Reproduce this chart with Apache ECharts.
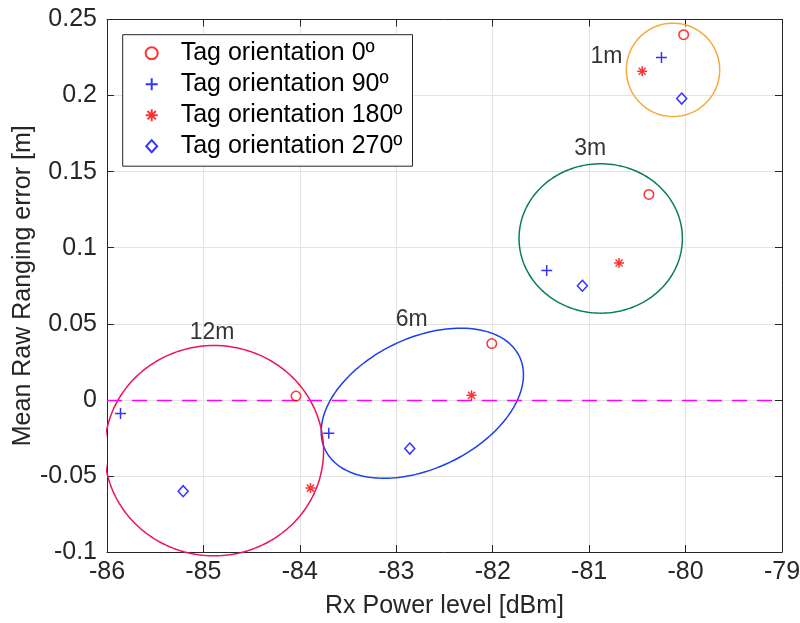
<!DOCTYPE html>
<html><head><meta charset="utf-8">
<script src="https://cdn.jsdelivr.net/npm/echarts@6/dist/echarts.min.js"></script>
<style>html,body{margin:0;padding:0;background:#fff}#c{width:800px;height:623px}</style>
</head><body><div id="c"></div>
<script>
// ---- data ----
const seriesNames = ['Tag orientation 0º', 'Tag orientation 90º', 'Tag orientation 180º', 'Tag orientation 270º'];
const distances = ['1m', '3m', '6m', '12m'];
const power0 = [-80.02, -80.38, -82.01, -84.04];
const error0 = [0.240, 0.135, 0.037, 0.0025];
const power90 = [-80.25, -81.44, -83.70, -85.86];
const error90 = [0.225, 0.085, -0.022, -0.009];
const power180 = [-80.45, -80.69, -82.22, -83.89];
const error180 = [0.216, 0.090, 0.003, -0.058];
const power270 = [-80.04, -81.07, -82.86, -85.21];
const error270 = [0.198, 0.075, -0.032, -0.060];
// group ellipses: centre and two conjugate semi-axis vectors (data units)
const ellipseCenterX = [-80.13, -80.88, -82.73, -84.89];
const ellipseCenterY = [0.2169, 0.1061, -0.0022, -0.0334];
const ellipseUx = [0.484, 0.847, 1.007, 1.136];
const ellipseUy = [0, 0, 0.0307, 0];
const ellipseVx = [0, 0, -0.293, 0];
const ellipseVy = [0.0307, 0.0491, 0.0386, 0.0691];
const ellipseColors = ['#F5AB3C', '#0B7C5E', '#1A3FF0', '#EE1450'];
const labelX = [-80.82, -80.99, -82.84, -84.91];
const labelY = [0.2257, 0.165, 0.0526, 0.0439];
const xMin = -86, xMax = -79, xStep = 1;
const yMin = -0.1, yMax = 0.25, yStep = 0.05;
const zeroLine = 0;

// ---- build ----
const FONT = 'Liberation Sans';
const AX = '#262626';
const zip = (xs, ys) => xs.map((x, i) => [x, ys[i]]);
const ellipsePts = i => {
  const pts = [];
  const N = 180;
  for (let k = 0; k <= N; k++) {
    const t = 2 * Math.PI * k / N;
    pts.push([ellipseCenterX[i] + ellipseUx[i] * Math.cos(t) + ellipseVx[i] * Math.sin(t),
              ellipseCenterY[i] + ellipseUy[i] * Math.cos(t) + ellipseVy[i] * Math.sin(t)]);
  }
  return pts;
};
const plusPath = 'path://M0,5L10,5M5,0L5,10';
const starPath = 'path://M0,5L10,5M5,0L5,10M1.5,1.5L8.5,8.5M1.5,8.5L8.5,1.5';
const diamondPath = 'path://M5,0L10,5.5L5,11L0,5.5Z';
const markerDefs = [
  {name: seriesNames[0], data: zip(power0, error0), symbol: 'circle', size: 9.5, color: '#FF0000'},
  {name: seriesNames[1], data: zip(power90, error90), symbol: plusPath, size: 11, color: '#0000FF'},
  {name: seriesNames[2], data: zip(power180, error180), symbol: starPath, size: 10, color: '#FF0000'},
  {name: seriesNames[3], data: zip(power270, error270), symbol: diamondPath, size: 11, color: '#0000FF'}
];

const series = [];
ellipseCenterX.forEach((_, i) => {
  series.push({
    type: 'line', data: ellipsePts(i), showSymbol: false, symbol: 'none', clip: false,
    silent: true, z: 2, lineStyle: {color: ellipseColors[i], width: 1.5}, animation: false
  });
});
series.push({
  type: 'scatter', data: labelX.map((x, i) => ({value: [x, labelY[i]], name: distances[i]})),
  symbol: 'circle', symbolSize: 1, itemStyle: {color: 'rgba(0,0,0,0)'}, silent: true,
  label: {show: true, position: 'inside', formatter: p => p.name, fontFamily: FONT, fontSize: 23, color: '#000'}
});
markerDefs.forEach((m, i) => {
  const s = {
    type: 'scatter', name: m.name, data: m.data, symbol: m.symbol, symbolSize: m.size, z: 5,
    symbolKeepAspect: true,
    itemStyle: {color: 'rgba(0,0,0,0)', borderColor: m.color, borderWidth: 1.5}
  };
  if (i === 0) {
    s.markLine = {
      silent: true, symbol: 'none', animation: false,
      data: [{yAxis: zeroLine}],
      lineStyle: {color: '#FF00FF', type: [15, 10], width: 1.3},
      label: {show: false}
    };
  }
  series.push(s);
});

const option = {
  animation: false,
  backgroundColor: '#fff',
  grid: {left: 107, right: 18, top: 19.5, bottom: 71, containLabel: false, outerBoundsMode: 'none'},
  legend: {
    orient: 'vertical', left: 122.7, top: 34.7,
    data: seriesNames,
    symbolKeepAspect: true,
    itemWidth: 48, itemHeight: 12, itemGap: 6,
    padding: [6, 10, 7.5, 22],
    borderColor: AX, borderWidth: 1, backgroundColor: '#fff',
    textStyle: {fontFamily: FONT, fontSize: 25, color: '#000'},
    selectedMode: false
  },
  xAxis: [{
    type: 'value', min: xMin, max: xMax, interval: xStep,
    name: 'Rx Power level [dBm]', nameLocation: 'middle', nameGap: 42, nameMoveOverlap: false,
    nameTextStyle: {fontFamily: FONT, fontSize: 25, color: AX},
    axisLine: {show: true, onZero: false, lineStyle: {color: AX, width: 1}},
    axisTick: {show: true, inside: true, length: 7, lineStyle: {color: AX}},
    axisLabel: {fontFamily: FONT, fontSize: 25, color: AX, margin: 8},
    splitLine: {show: true, lineStyle: {color: '#E3E3E3', width: 1}}
  }, {
    type: 'value', min: xMin, max: xMax, interval: xStep, position: 'top',
    axisLine: {show: true, onZero: false, lineStyle: {color: AX, width: 1}},
    axisTick: {show: true, inside: true, length: 7, lineStyle: {color: AX}},
    axisLabel: {show: false}, splitLine: {show: false}
  }],
  yAxis: [{
    type: 'value', min: yMin, max: yMax, interval: yStep,
    name: 'Mean Raw Ranging error [m]', nameLocation: 'middle', nameGap: 71, nameMoveOverlap: false,
    nameTextStyle: {fontFamily: FONT, fontSize: 25, color: AX},
    axisLine: {show: true, onZero: false, lineStyle: {color: AX, width: 1}},
    axisTick: {show: true, inside: true, length: 7, lineStyle: {color: AX}},
    axisLabel: {fontFamily: FONT, fontSize: 25, color: AX, margin: 10,
      formatter: v => String(+v.toFixed(2))},
    splitLine: {show: true, lineStyle: {color: '#E3E3E3', width: 1}}
  }, {
    type: 'value', min: yMin, max: yMax, interval: yStep, position: 'right',
    axisLine: {show: true, onZero: false, lineStyle: {color: AX, width: 1}},
    axisTick: {show: true, inside: true, length: 7, lineStyle: {color: AX}},
    axisLabel: {show: false}, splitLine: {show: false}
  }],
  series: series
};
const chart = echarts.init(document.getElementById('c'), null, {renderer: 'canvas'});
chart.setOption(option);
</script></body></html>
